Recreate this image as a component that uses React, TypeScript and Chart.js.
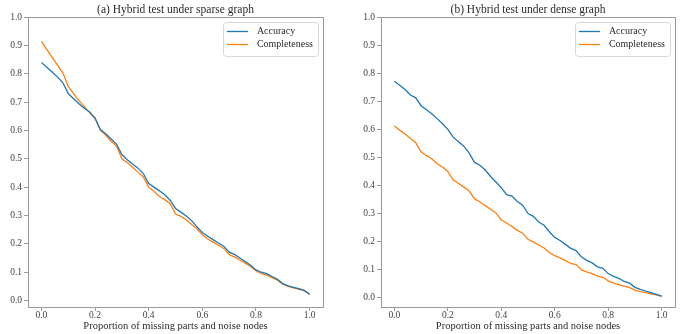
import React, { useEffect, useRef } from 'react';
import { Chart, registerables } from 'chart.js';

Chart.register(...registerables);

const xValues = [
  0.0, 0.02, 0.04, 0.06, 0.08, 0.1, 0.12, 0.14, 0.16, 0.18,
  0.2, 0.22, 0.24, 0.26, 0.28, 0.3, 0.32, 0.34, 0.36, 0.38,
  0.4, 0.42, 0.44, 0.46, 0.48, 0.5, 0.52, 0.54, 0.56, 0.58,
  0.6, 0.62, 0.64, 0.66, 0.68, 0.7, 0.72, 0.74, 0.76, 0.78,
  0.8, 0.82, 0.84, 0.86, 0.88, 0.9, 0.92, 0.94, 0.96, 0.98, 1.0,
];

const sparseAccuracy = [
  0.840, 0.823, 0.806, 0.788, 0.768, 0.730, 0.712, 0.694, 0.678, 0.665,
  0.642, 0.603, 0.588, 0.570, 0.552, 0.515, 0.497, 0.482, 0.467, 0.448,
  0.413, 0.400, 0.387, 0.373, 0.354, 0.325, 0.312, 0.298, 0.282, 0.260,
  0.240, 0.227, 0.215, 0.203, 0.192, 0.171, 0.163, 0.150, 0.138, 0.125,
  0.108, 0.100, 0.095, 0.085, 0.075, 0.060, 0.052, 0.047, 0.042, 0.036, 0.022,
];

const sparseCompleteness = [
  0.913, 0.886, 0.858, 0.830, 0.803, 0.755, 0.730, 0.705, 0.684, 0.662,
  0.645, 0.600, 0.583, 0.562, 0.545, 0.500, 0.487, 0.470, 0.453, 0.436,
  0.400, 0.385, 0.367, 0.356, 0.342, 0.305, 0.297, 0.285, 0.268, 0.253,
  0.232, 0.217, 0.206, 0.195, 0.184, 0.162, 0.154, 0.143, 0.132, 0.120,
  0.105, 0.095, 0.090, 0.081, 0.072, 0.058, 0.050, 0.045, 0.040, 0.035, 0.022,
];

const denseAccuracy = [
  0.771, 0.757, 0.742, 0.722, 0.712, 0.684, 0.670, 0.655, 0.638, 0.620,
  0.600, 0.572, 0.556, 0.540, 0.515, 0.482, 0.472, 0.455, 0.432, 0.412,
  0.392, 0.367, 0.362, 0.343, 0.330, 0.300, 0.290, 0.270, 0.258, 0.235,
  0.215, 0.204, 0.190, 0.176, 0.168, 0.145, 0.133, 0.124, 0.110, 0.105,
  0.086, 0.076, 0.069, 0.058, 0.052, 0.037, 0.030, 0.024, 0.018, 0.012, 0.006,
];

const denseCompleteness = [
  0.612, 0.597, 0.583, 0.567, 0.552, 0.520, 0.506, 0.495, 0.477, 0.466,
  0.450, 0.420, 0.407, 0.394, 0.380, 0.352, 0.342, 0.328, 0.315, 0.302,
  0.277, 0.266, 0.254, 0.240, 0.230, 0.208, 0.198, 0.188, 0.177, 0.160,
  0.150, 0.142, 0.132, 0.122, 0.118, 0.099, 0.092, 0.086, 0.077, 0.073,
  0.060, 0.052, 0.047, 0.041, 0.036, 0.027, 0.022, 0.018, 0.014, 0.010, 0.005,
];

const xTicks = [0.0, 0.2, 0.4, 0.6, 0.8, 1.0];
const yTicks = [0.0, 0.1, 0.2, 0.3, 0.4, 0.5, 0.6, 0.7, 0.8, 0.9, 1.0];
const seriesNames = ['Accuracy', 'Completeness'];
const seriesColors = ['#1f77b4', '#ff7f0e'];
const xAxisTitle = 'Proportion of missing parts and noise nodes';

const FONT = "'Liberation Serif', 'DejaVu Serif', serif";
const SPINE = '#9a9a9a';
const TEXT = '#2b2b2b';
const TICKTEXT = '#444444';

const framePlugin = {
  id: 'mplFrame',
  afterDatasetsDraw(chart: any) {
    const { ctx, chartArea } = chart;
    const opts = chart.options.plugins.mplFrame || {};
    ctx.save();
    ctx.strokeStyle = SPINE;
    ctx.lineWidth = 1;
    ctx.strokeRect(
      Math.round(chartArea.left) + 0.5,
      Math.round(chartArea.top) + 0.5,
      Math.round(chartArea.right - chartArea.left),
      Math.round(chartArea.bottom - chartArea.top)
    );
    // title
    ctx.fillStyle = TEXT;
    ctx.font = `11.5px ${FONT}`;
    ctx.textAlign = 'center';
    ctx.textBaseline = 'alphabetic';
    ctx.fillText(opts.title || '', (chartArea.left + chartArea.right) / 2, chartArea.top - 4);

    // legend
    const ds = chart.data.datasets;
    ctx.font = `10px ${FONT}`;
    let maxW = 0;
    ds.forEach((d: any) => {
      maxW = Math.max(maxW, ctx.measureText(d.label).width);
    });
    const boxW = 4 + 21 + 9 + maxW + 5;
    const boxH = 34;
    const boxR = chartArea.right - 5;
    const boxL = boxR - boxW;
    const boxT = chartArea.top + 5;
    ctx.fillStyle = 'rgba(255,255,255,0.85)';
    ctx.strokeStyle = '#d8d8d8';
    ctx.lineWidth = 1;
    ctx.beginPath();
    const r = 3;
    const x0 = Math.round(boxL) + 0.5, y0 = Math.round(boxT) + 0.5;
    const x1 = x0 + Math.round(boxW), y1 = y0 + boxH;
    ctx.moveTo(x0 + r, y0);
    ctx.lineTo(x1 - r, y0);
    ctx.quadraticCurveTo(x1, y0, x1, y0 + r);
    ctx.lineTo(x1, y1 - r);
    ctx.quadraticCurveTo(x1, y1, x1 - r, y1);
    ctx.lineTo(x0 + r, y1);
    ctx.quadraticCurveTo(x0, y1, x0, y1 - r);
    ctx.lineTo(x0, y0 + r);
    ctx.quadraticCurveTo(x0, y0, x0 + r, y0);
    ctx.closePath();
    ctx.fill();
    ctx.stroke();
    ds.forEach((d: any, i: number) => {
      const cy = boxT + 9.5 + i * 13;
      ctx.strokeStyle = d.borderColor;
      ctx.lineWidth = 1.3;
      ctx.beginPath();
      ctx.moveTo(boxL + 4, cy);
      ctx.lineTo(boxL + 25, cy);
      ctx.stroke();
      ctx.fillStyle = TEXT;
      ctx.textAlign = 'left';
      ctx.textBaseline = 'middle';
      ctx.fillText(d.label, boxL + 34, cy);
    });
    ctx.restore();
  },
};

function makeConfig(
  title: string,
  acc: number[],
  comp: number[],
  yMin: number,
  yAxisWidth: number,
  padRight: number
): any {
  const series = [acc, comp];
  return {
    type: 'line',
    data: {
      datasets: series.map((vals, i) => ({
        label: seriesNames[i],
        data: xValues.map((x, j) => ({ x, y: vals[j] })),
        borderColor: seriesColors[i],
        backgroundColor: seriesColors[i],
        borderWidth: 1.3,
        pointRadius: 0,
        tension: 0,
        fill: false,
      })),
    },
    options: {
      responsive: false,
      animation: false,
      events: [],
      layout: { padding: { top: 17, right: padRight, left: 0, bottom: 0 } },
      plugins: {
        legend: { display: false },
        tooltip: { enabled: false },
        title: { display: false },
        mplFrame: { title },
      },
      scales: {
        x: {
          type: 'linear',
          min: -0.05,
          max: 1.05,
          afterBuildTicks: (scale: any) => {
            scale.ticks = xTicks.map((v) => ({ value: v }));
          },
          afterFit: (scale: any) => {
            scale.height = 27;
          },
          ticks: {
            callback: (v: any) => Number(v).toFixed(1),
            font: { family: FONT, size: 9.5 },
            color: TICKTEXT,
            padding: -1,
            maxRotation: 0,
            autoSkip: false,
          },
          grid: {
            drawOnChartArea: false,
            drawTicks: true,
            tickLength: 4,
            color: SPINE,
          },
          border: { display: false },
          title: {
            display: true,
            text: xAxisTitle,
            font: { family: FONT, size: 10.5 },
            color: TEXT,
            padding: { top: 0, bottom: 1 },
          },
        },
        y: {
          type: 'linear',
          min: yMin,
          max: 1.0,
          afterBuildTicks: (scale: any) => {
            scale.ticks = yTicks.map((v) => ({ value: v }));
          },
          afterFit: (scale: any) => {
            scale.width = yAxisWidth;
          },
          ticks: {
            callback: (v: any) => Number(v).toFixed(1),
            font: { family: FONT, size: 9.5 },
            color: TICKTEXT,
            padding: 2,
            autoSkip: false,
          },
          grid: {
            drawOnChartArea: false,
            drawTicks: true,
            tickLength: 4,
            color: SPINE,
          },
          border: { display: false },
        },
      },
    },
    plugins: [framePlugin],
  };
}

function Panel(props: {
  left: number;
  width: number;
  title: string;
  acc: number[];
  comp: number[];
  yMin: number;
  yAxisWidth: number;
  padRight: number;
}) {
  const ref = useRef<HTMLCanvasElement | null>(null);
  useEffect(() => {
    if (!ref.current) return;
    const chart = new Chart(
      ref.current,
      makeConfig(props.title, props.acc, props.comp, props.yMin, props.yAxisWidth, props.padRight)
    );
    return () => chart.destroy();
  }, []);
  return (
    <div style={{ position: 'absolute', left: props.left, top: 0, width: props.width, height: 334 }}>
      <canvas ref={ref} width={props.width} height={334} style={{ display: 'block' }} />
    </div>
  );
}

export default function App() {
  return (
    <div
      style={{
        position: 'fixed',
        left: 0,
        top: 0,
        width: 683,
        height: 334,
        background: '#ffffff',
        overflow: 'hidden',
      }}
    >
      <Panel
        left={0}
        width={340}
        title="(a) Hybrid test under sparse graph"
        acc={sparseAccuracy}
        comp={sparseCompleteness}
        yMin={-0.0226}
        yAxisWidth={28}
        padRight={17}
      />
      <Panel
        left={340}
        width={343}
        title="(b) Hybrid test under dense graph"
        acc={denseAccuracy}
        comp={denseCompleteness}
        yMin={-0.033}
        yAxisWidth={41}
        padRight={8}
      />
    </div>
  );
}
